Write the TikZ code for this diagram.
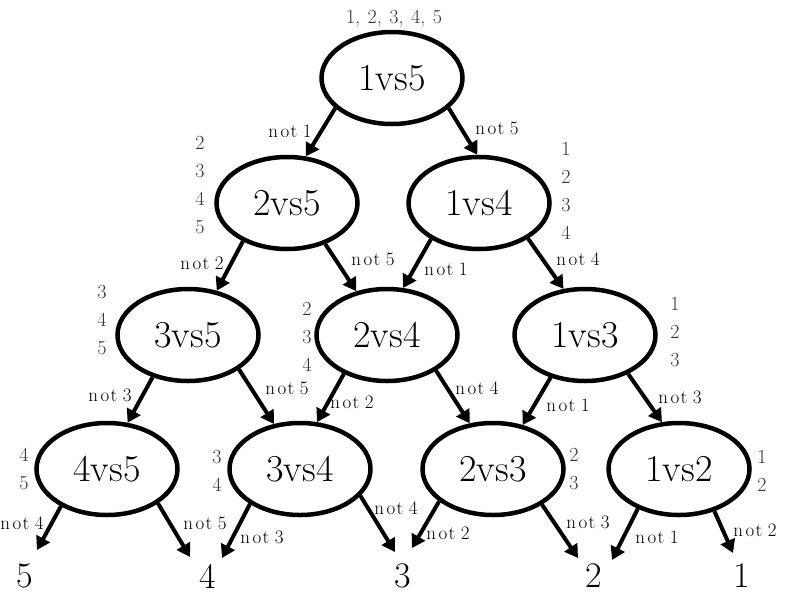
\documentclass[tikz,border=0pt]{standalone}
\usepackage{fontspec}
\usetikzlibrary{shapes.geometric,arrows.meta}
\newcommand{\notl}[1]{n\kern2.5pt o\kern1.5pt t\kern5.5pt#1}
\begin{document}
\begin{tikzpicture}[x=1pt,y=-1pt,
  vs/.style={ellipse, draw, line width=4.5pt, minimum width=141pt, minimum height=92pt, inner sep=0pt, font=\fontsize{38}{40}\selectfont},
  arr/.style={line width=4pt, -{Triangle[length=13pt,width=15pt]}},
  lab/.style={font=\fontsize{19}{20}\selectfont, inner sep=0pt},
  side/.style={font=\fontsize{20}{28}\selectfont, text=black!80, inner sep=0pt, align=center},
  leaf/.style={font=\fontsize{36}{38}\selectfont, inner sep=0pt}]
\useasboundingbox (0,0) rectangle (789,603);
% nodes
\node[vs] (a) at (392,78) {1vs5};
\node[vs] (b) at (287,203) {2vs5};
\node[vs] (c) at (479,203) {1vs4};
\node[vs] (d) at (188,335) {3vs5};
\node[vs] (e) at (387,335) {2vs4};
\node[vs] (f) at (585,335) {1vs3};
\node[vs] (g) at (107,469) {4vs5};
\node[vs] (h) at (300,469) {3vs4};
\node[vs] (i) at (493,469) {2vs3};
\node[vs] (j) at (679,469) {1vs2};
% leaves
\node[leaf] (l5) at (25,576) {5};
\node[leaf] (l4) at (208,576) {4};
\node[leaf] (l3) at (403,576) {3};
\node[leaf] (l2) at (594,576) {2};
\node[leaf] (l1) at (742,576) {1};
% arrow tip coordinates
\coordinate (t1) at (37,550);
\coordinate (t2) at (190,557);
\coordinate (t3) at (222,558);
\coordinate (t4) at (395,552);
\coordinate (t5) at (412,548);
\coordinate (t6) at (578,558);
\coordinate (t7) at (612,560);
\coordinate (t8) at (733,553);
% connectors
\draw[arr] (a.208) -- (b.68);
\draw[arr] (a.332) -- (c.92);
\draw[arr] (b.221) -- (d.57);
\draw[arr] (b.313) -- (e.125);
\draw[arr] (c.217) -- (e.71);
\draw[arr] (c.324) -- (f.115);
\draw[arr] (d.230) -- (g.66);
\draw[arr] (d.326) -- (h.120);
\draw[arr] (e.222) -- (h.70);
\draw[arr] (e.324) -- (i.117);
\draw[arr] (f.231) -- (i.56);
\draw[arr] (f.318) -- (j.110);
\draw[arr] (g.219) -- (t1);
\draw[arr] (g.326) -- (t2);
\draw[arr] (h.215) -- (t3);
\draw[arr] (h.336) -- (t4);
\draw[arr] (i.211) -- (t5);
\draw[arr] (i.324) -- (t6);
\draw[arr] (j.224) -- (t7);
\draw[arr] (j.310) -- (t8);
% edge labels
\node[lab] (n1) at (290,131) {\notl{1}};
\node[lab] (n2) at (497,128) {\notl{5}};
\node[lab] (n3) at (202,263) {\notl{2}};
\node[lab] (n4) at (373,259) {\notl{5}};
\node[lab] (n5) at (446,269) {\notl{1}};
\node[lab] (n6) at (578,259) {\notl{4}};
\node[lab] (n7) at (110,395) {\notl{3}};
\node[lab] (n8) at (287,388) {\notl{5}};
\node[lab] (n9) at (352,402) {\notl{2}};
\node[lab] (n10) at (477,388) {\notl{4}};
\node[lab] (n11) at (568,405) {\notl{1}};
\node[lab] (n12) at (680,397) {\notl{3}};
\node[lab] (n13) at (22,523) {\notl{4}};
\node[lab] (n14) at (205,523) {\notl{5}};
\node[lab] (n15) at (262,537) {\notl{3}};
\node[lab] (n16) at (396,508) {\notl{4}};
\node[lab] (n17) at (448,533) {\notl{2}};
\node[lab] (n18) at (588,522) {\notl{3}};
\node[lab] (n19) at (657,537) {\notl{1}};
\node[lab] (n20) at (755,530) {\notl{2}};
% side labels
\node[side] (s1) at (394,19) {1,\hspace{7.5pt}2,\hspace{7.5pt}3,\hspace{7.5pt}4,\hspace{7.5pt}5};
\node[side] (s2) at (200,185.5) {2\\3\\4\\5};
\node[side] (s3) at (566,190.5) {1\\2\\3\\4};
\node[side] (s4) at (102,320) {3\\4\\5};
\node[side] (s5) at (307,336.5) {2\\3\\4};
\node[side] (s6) at (675,332.5) {1\\2\\3};
\node[side] (s7) at (24,469) {4\\5};
\node[side] (s8) at (217,471) {3\\4};
\node[side] (s9) at (574,469) {2\\3};
\node[side] (s10) at (762,470.5) {1\\2};
\end{tikzpicture}
\end{document}
